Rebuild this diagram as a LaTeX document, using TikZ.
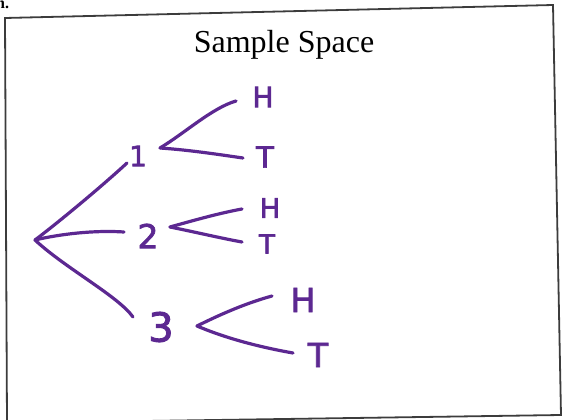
\documentclass[tikz,border=0pt]{standalone}
\usepackage{fontspec}
\setmainfont{Liberation Serif}
\newfontfamily\handfont[FakeBold=2.2]{DejaVu Sans}
\definecolor{pen}{RGB}{92,40,145}
\definecolor{boxgray}{RGB}{60,60,60}
\begin{document}
\begin{tikzpicture}[x=1pt,y=-1pt,
  stroke/.style={draw=pen,line width=3.2pt,line cap=round,line join=round},
  hand/.style={text=pen,inner sep=0pt},
  frame/.style={draw=boxgray,line width=1.8pt,line join=miter}]
\useasboundingbox (0,0) rectangle (563,420);
% outer frame
\coordinate (tl) at (5,18);
\coordinate (tr) at (553,5);
\coordinate (br) at (561,415);
\coordinate (bl) at (7,423);
\draw[frame] (bl) -- (tl) -- (tr) -- (br) -- (bl);
\begin{scope}
\clip (0,0) rectangle (563,420);
\node[font=\bfseries\fontsize{16}{16}\selectfont,anchor=south west,inner sep=0pt] (frag) at (-4,9) {n.};
\end{scope}
% title
\node[font=\fontsize{32}{32}\selectfont,inner sep=0pt] (title) at (284,45) {Sample Space};
% first level labels
\node[hand,font=\handfont\fontsize{28}{28}\selectfont] (one) at (138,156) {1};
\node[hand,font=\handfont\fontsize{33}{33}\selectfont] (two) at (148,236) {2};
\node[hand,font=\handfont\fontsize{40}{40}\selectfont] (three) at (161,327) {3};
% second level labels
\node[hand,font=\handfont\fontsize{28}{28}\selectfont] (h1) at (263,97) {H};
\node[hand,font=\handfont\fontsize{29}{29}\selectfont] (t1) at (265,157) {T};
\node[hand,font=\handfont\fontsize{27}{27}\selectfont] (h2) at (270,208) {H};
\node[hand,font=\handfont\fontsize{26}{26}\selectfont] (t2) at (267,244) {T};
\node[hand,font=\handfont\fontsize{33}{33}\selectfont] (h3) at (303,300) {H};
\node[hand,font=\handfont\fontsize{33}{33}\selectfont] (t3) at (318,355) {T};
% stroke points
\coordinate (root) at (35,240);
\coordinate (e1) at (127,163);
\coordinate (e2) at (124,232);
\coordinate (e3) at (133,317);
\coordinate (v1) at (160,148);
\coordinate (a1) at (236,101);
\coordinate (b1) at (243,158);
\coordinate (v2) at (170,227);
\coordinate (a2) at (242,209);
\coordinate (b2) at (242,242);
\coordinate (v3) at (197,326);
\coordinate (a3) at (272,296);
\coordinate (b3) at (293,353);
% first level branches
\draw[stroke] (root) .. controls (55,225) and (100,188) .. (e1);
\draw[stroke] (root) .. controls (60,234) and (95,230) .. (e2);
\draw[stroke] (root) .. controls (65,268) and (118,296) .. (e3);
% second level branches
\draw[stroke] (v1) .. controls (185,133) and (212,108) .. (a1);
\draw[stroke] (v1) .. controls (190,150) and (222,155) .. (b1);
\draw[stroke] (v2) .. controls (195,220) and (220,213) .. (a2);
\draw[stroke] (v2) .. controls (195,232) and (220,238) .. (b2);
\draw[stroke] (v3) .. controls (225,312) and (250,302) .. (a3);
\draw[stroke] (v3) .. controls (230,340) and (265,348) .. (b3);
\end{tikzpicture}
\end{document}
